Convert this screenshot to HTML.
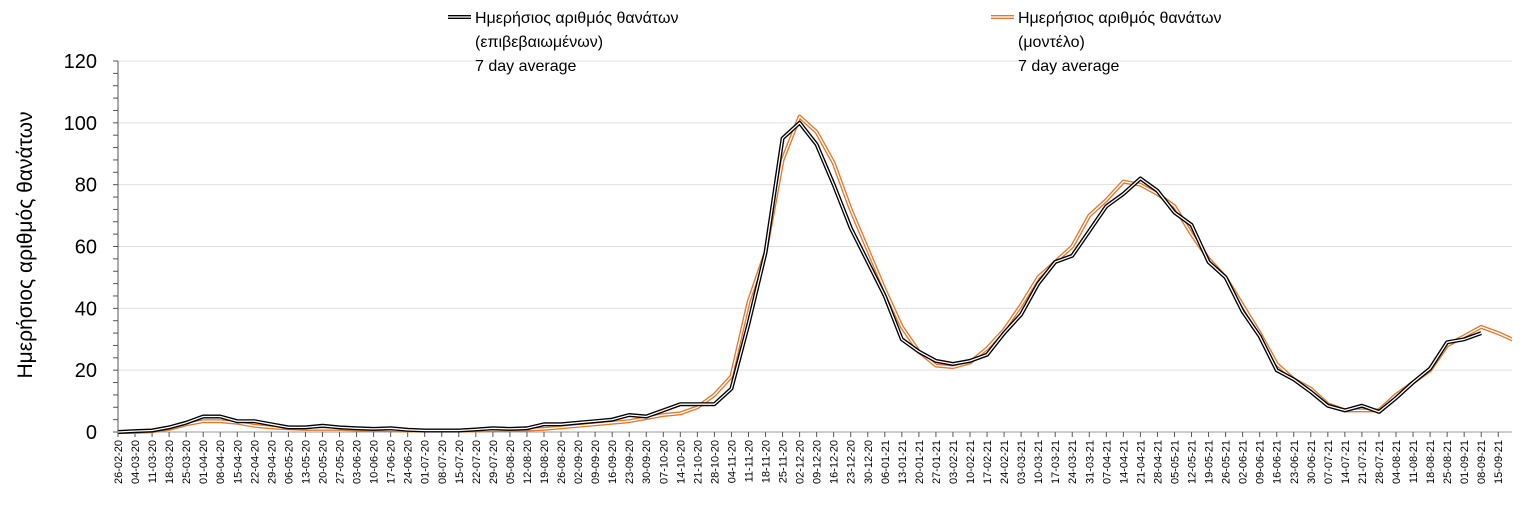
<!DOCTYPE html>
<html><head><meta charset="utf-8"><style>
body{margin:0;background:#fff;width:1537px;height:516px;overflow:hidden;font-family:"Liberation Sans",sans-serif}
</style></head><body>
<svg id="chart" width="1537" height="516" xmlns="http://www.w3.org/2000/svg" font-family="Liberation Sans, sans-serif">
<g id="grid"></g>
<g id="yaxis"></g>
<g id="xaxis"></g>
<g id="series"></g>
<text x="0" y="0" transform="translate(32,245) rotate(-90)" text-anchor="middle" font-size="21" fill="#000">Ημερήσιος αριθμός θανάτων</text>
<g>
<line x1="448" y1="17" x2="471" y2="17" stroke="#000" stroke-width="4"/><line x1="448" y1="17" x2="471" y2="17" stroke="#fff" stroke-width="1.3"/>
<text x="475" y="23" font-size="16"><tspan x="475">Ημερήσιος αριθμός θανάτων</tspan><tspan x="475" dy="24">(επιβεβαιωμένων)</tspan><tspan x="475" dy="24">7 day average</tspan></text></g>
<g>
<line x1="991" y1="17" x2="1014" y2="17" stroke="#e07a30" stroke-width="4"/><line x1="991" y1="17" x2="1014" y2="17" stroke="#fff" stroke-width="1.3"/>
<text x="1018" y="23" font-size="16"><tspan x="1018">Ημερήσιος αριθμός θανάτων</tspan><tspan x="1018" dy="24">(μοντέλο)</tspan><tspan x="1018" dy="24">7 day average</tspan></text></g>
</svg>
<script>
const yTicks=[0,20,40,60,80,100,120];
const confirmed=[0,0.3,0.5,1.5,3,5,5,3.5,3.5,2.5,1.5,1.5,2,1.5,1.2,1,1.2,0.7,0.5,0.5,0.5,0.8,1.2,1,1.2,2.5,2.5,3,3.5,4,5.5,5,7,9,9,9,14,35,58,95,100,93,80,66,55,44,30,26,23,22,23,25,32,38,48,55,57,65,73,77,82,78,71,67,55,50,39,31,20,17,13,8.5,7,8.5,6.5,11,16,20.5,29,30,32];
const model=[0,0,0.3,1,2.5,3.5,3.5,3,2,1.5,1.2,1,1,1,0.8,0.7,0.6,0.5,0.5,0.5,0.5,0.5,0.6,0.7,0.8,1,1.5,2,2.5,3,3.5,4.5,5.5,6,8,12,18,42,58,88,102,97,87,72,59,46,34,26,21.5,21,22.5,27,33,41,50,55,60,70,75,81,80,77,73,64,56,50,41,32,22,17,14,9,7,7,7,12,16,20,28,31,34,32,29.5];
const startDate=new Date(2020,1,26);
const NS='http://www.w3.org/2000/svg';
const X0=118,DX=17.04,Y0=432,YK=371/120,XR=1512;
const xs=i=>X0+DX*i, ys=v=>Y0-v*YK;
function mk(t,a,p){const e=document.createElementNS(NS,t);for(const k in a)e.setAttribute(k,a[k]);p.appendChild(e);return e;}
const grid=document.getElementById('grid'),ya=document.getElementById('yaxis'),xa=document.getElementById('xaxis'),se=document.getElementById('series');
yTicks.forEach(v=>{
 if(v>0){const g=mk('line',{x1:X0,x2:XR,y1:ys(v),y2:ys(v),stroke:'#e0e0e0','stroke-width':1},grid);
 
 }
 const t=mk('text',{x:97,y:ys(v)+7,'text-anchor':'end','font-size':20},ya);t.textContent=v;
 
 
});
for(let v=0;v<=120;v+=4){mk('line',{x1:X0-5,x2:X0,y1:ys(v),y2:ys(v),stroke:'#555'},ya);}
mk('line',{x1:X0,x2:X0,y1:ys(120),y2:Y0,stroke:'#555'},ya);
mk('line',{x1:X0,x2:XR,y1:Y0,y2:Y0,stroke:'#999'},xa);
const pad=n=>String(n).padStart(2,'0');
for(let i=0;i<82;i++){
 const d=new Date(startDate.getTime());d.setDate(d.getDate()+7*i);
 const lab=pad(d.getDate())+'-'+pad(d.getMonth()+1)+'-'+String(d.getFullYear()).slice(2);
 const x=xs(i);
 mk('line',{x1:x,x2:x,y1:Y0,y2:Y0+5,stroke:'#555'},xa);
 const t=mk('text',{x:0,y:0,transform:`translate(${x+4},${Y0+8}) rotate(-90)`,'text-anchor':'end','font-size':11},xa);
 t.textContent=lab;
 
 
}
mk('clipPath',{id:'cp'},se).appendChild(document.createElementNS(NS,'rect'));
const r=se.querySelector('rect');r.setAttribute('x',X0);r.setAttribute('y',0);r.setAttribute('width',XR-X0);r.setAttribute('height',Y0+2);
function line(arr,color,name){
 const d=arr.map((v,i)=>(i?'L':'M')+xs(i).toFixed(1)+','+ys(v).toFixed(1)).join('');
 const g=mk('g',{'clip-path':'url(#cp)'},se);
 
 
 mk('path',{d,fill:'none',stroke:color,'stroke-width':4,'stroke-linejoin':'round'},g);
 mk('path',{d,fill:'none',stroke:'#fff','stroke-width':1.3,'stroke-linejoin':'round'},g);
}
line(model,'#e07a30','series-model');
line(confirmed,'#000','series-confirmed');
</script>
</body></html>
